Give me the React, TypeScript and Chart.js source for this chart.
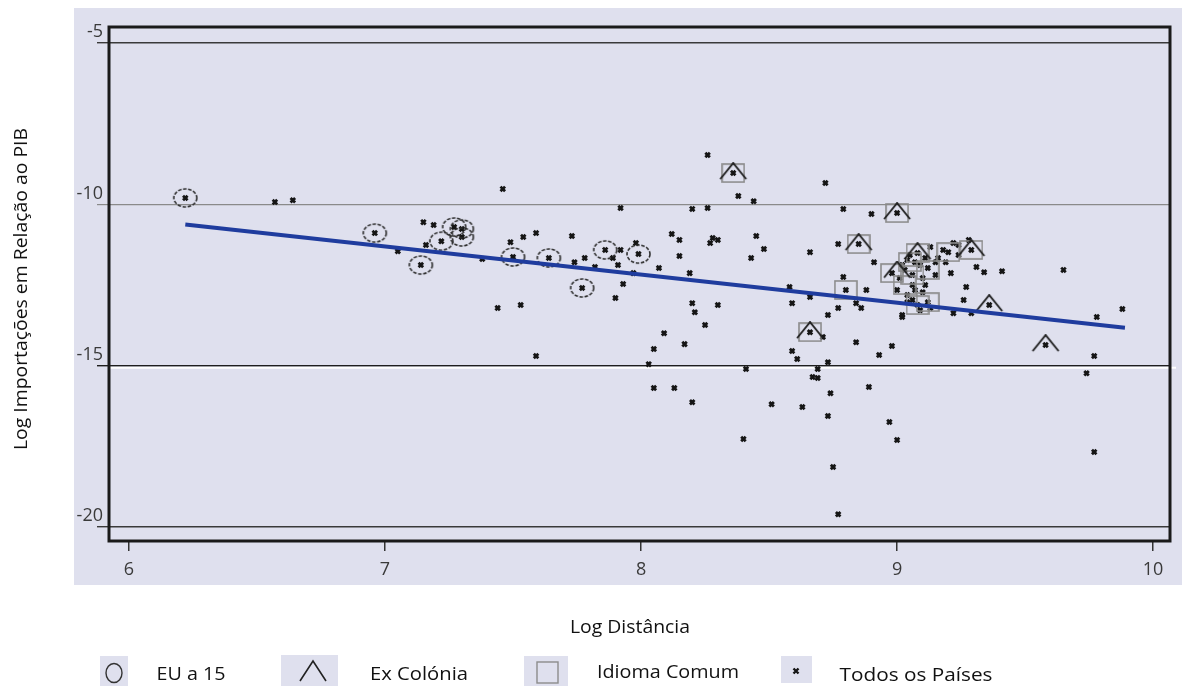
import React, { useEffect, useRef } from "react";
import { Chart, registerables } from "chart.js";

Chart.register(...registerables);

const xTicks = [6, 7, 8, 9, 10];
const yTicks = [-5, -10, -15, -20];

const allX = [
  6.22, 6.57, 6.64, 6.96, 7.05, 7.14, 7.15, 7.19, 7.16, 7.22, 7.27, 7.3, 7.3, 7.38, 7.44, 7.46, 7.49, 7.5, 7.53, 7.54,
  7.59, 7.59, 7.64, 7.73, 7.74, 7.77, 7.78, 7.82, 7.86, 7.89, 7.9, 7.91, 7.92, 7.92, 7.93, 7.97, 7.98, 7.99, 8.03, 8.05,
  8.05, 8.07, 8.09, 8.12, 8.13, 8.15, 8.15, 8.17, 8.19, 8.2, 8.2, 8.2, 8.21, 8.25, 8.26, 8.26, 8.27, 8.28, 8.3, 8.3,
  8.36, 8.38, 8.4, 8.41, 8.43, 8.44, 8.45, 8.48, 8.51, 8.58, 8.59, 8.59, 8.61, 8.63, 8.66, 8.66, 8.66, 8.67, 8.69, 8.69,
  8.71, 8.72, 8.73, 8.73, 8.73, 8.74, 8.75, 8.77, 8.77, 8.77, 8.79, 8.79, 8.8, 8.84, 8.84, 8.85, 8.86, 8.88, 8.89, 8.9,
  8.91, 8.93, 8.97, 8.98, 9.0, 9.0, 9.02,
  8.98, 9.01, 9.02, 9.04, 9.05, 9.06, 9.06, 9.04, 9.02, 9.08, 9.08, 9.09, 9.1, 9.1, 9.12, 9.12, 9.13, 9.16, 9.2, 9.21,
  9.22, 9.22, 9.26, 9.27, 9.28, 9.29, 9.29, 9.31, 9.34, 9.36, 9.41, 9.58, 9.65, 9.74, 9.77, 9.77, 9.78, 9.88,
  9.07, 9.11, 9.15, 9.18, 9.24, 9.04, 9.13,
  9.03, 9.07, 9.11, 9.06, 9.09, 9.15, 9.19, 9.24, 9.0,
];
const allY = [
  -9.8, -9.93, -9.87, -10.89, -11.45, -11.88, -10.55, -10.64, -11.26, -11.14, -10.7, -10.76, -11.01, -11.69, -13.21, -9.52, -11.17, -11.63, -13.12, -11.01,
  -10.89, -14.7, -11.66, -10.98, -11.79, -12.59, -11.66, -11.94, -11.41, -11.66, -12.9, -11.88, -11.41, -10.11, -12.47, -12.13, -11.2, -11.54, -14.95, -14.48,
  -15.69, -11.97, -13.99, -10.92, -15.69, -11.1, -11.6, -14.33, -12.13, -10.14, -13.06, -16.13, -13.34, -13.74, -8.47, -10.11, -11.2, -11.04, -11.1, -13.12,
  -9.03, -9.74, -17.27, -15.1, -11.66, -9.9, -10.98, -11.38, -16.19, -12.56, -14.54, -13.06, -14.79, -16.28, -11.48, -12.87, -13.96, -15.35, -15.1, -15.38,
  -14.11, -9.34, -13.43, -14.89, -16.56, -15.85, -18.14, -13.21, -11.23, -19.6, -10.14, -12.25, -12.65, -13.06, -14.27, -11.23, -13.21, -12.65, -15.66, -10.3,
  -11.79, -14.67, -16.74, -14.39, -17.3, -10.27, -13.49,
  -12.13, -12.28, -11.88, -11.72, -11.57, -12.5, -12.19, -12.81, -13.43, -13.12, -11.51, -11.88, -12.72, -12.28, -13.03, -11.97, -11.32, -11.66, -11.48, -12.13,
  -11.2, -13.37, -12.96, -12.56, -11.1, -11.41, -13.37, -11.94, -12.1, -13.12, -12.07, -14.36, -12.03, -15.23, -14.7, -17.67, -13.49, -13.24,
  -12.65, -12.5, -11.79, -11.41, -11.26, -13.03, -13.21,
  -12.03, -11.79, -11.66, -12.96, -13.28, -12.19, -11.79, -11.57, -12.65,
];

const euX = [6.22, 6.96, 7.14, 7.22, 7.27, 7.3, 7.3, 7.5, 7.64, 7.77, 7.86, 7.99];
const euY = [-9.8, -10.89, -11.88, -11.14, -10.7, -10.76, -11.01, -11.63, -11.66, -12.59, -11.41, -11.54];

const colX = [8.36, 9.0, 8.85, 8.66, 9.08, 9.29, 9.36, 9.58, 9.0];
const colY = [-9.03, -10.27, -11.23, -13.96, -11.51, -11.41, -13.12, -14.36, -12.08];

const langX = [8.36, 9.0, 8.85, 8.8, 8.66, 9.08, 9.2, 9.29, 8.98, 9.06, 9.08, 9.12, 9.05, 9.03, 9.12];
const langY = [-9.03, -10.27, -11.23, -12.65, -13.96, -11.51, -11.48, -11.41, -12.13, -12.19, -13.12, -13.03, -11.79, -12.5, -12.03];

const fitX = [6.22, 9.89];
const fitY = [-10.62, -13.82];

const FONT = "'Open Sans', 'DejaVu Sans', sans-serif";
const LAVENDER = "#dfe0ee";

const zip = (xs: number[], ys: number[]) => xs.map((x, i) => ({ x, y: ys[i] }));

function measure(text: string, font: string): number {
  const c = document.createElement("canvas");
  const g = c.getContext("2d")!;
  g.font = font;
  return g.measureText(text).width;
}

function FitText(props: { text: string; cx: number; cy: number; width: number; size: number; rotate?: boolean; color?: string }) {
  const { text, cx, cy, width, size, rotate, color } = props;
  const font = `${size}px ${FONT}`;
  const w = typeof document !== "undefined" ? measure(text, font) : width;
  const s = w > 0 ? width / w : 1;
  return (
    <div
      style={{
        position: "absolute",
        left: cx,
        top: cy,
        font,
        color: color || "#111",
        whiteSpace: "nowrap",
        lineHeight: 1,
        transform: `translate(-50%, -50%) ${rotate ? "rotate(-90deg) " : ""}scaleX(${s})`,
      }}
    >
      {text}
    </div>
  );
}

export default function App() {
  const ref = useRef<HTMLCanvasElement>(null);

  useEffect(() => {
    const mk = (w: number, h: number, draw: (g: CanvasRenderingContext2D) => void) => {
      const c = document.createElement("canvas");
      c.width = w;
      c.height = h;
      draw(c.getContext("2d")!);
      return c;
    };
    const euImg = mk(27, 22, (g) => {
      g.strokeStyle = "#2e2e2e";
      g.lineWidth = 1.6;
      g.setLineDash([3.5, 1.6]);
      g.beginPath();
      g.ellipse(13.5, 11, 11.5, 9, 0, 0, Math.PI * 2);
      g.stroke();
    });
    const colImg = mk(30, 22, (g) => {
      g.strokeStyle = "#1e1e1e";
      g.lineWidth = 1.9;
      g.beginPath();
      g.moveTo(2, 17);
      g.lineTo(15, 1);
      g.lineTo(28, 17);
      g.stroke();
    });
    const langImg = mk(24, 20, (g) => {
      g.strokeStyle = "#8a8a8a";
      g.lineWidth = 1.6;
      g.strokeRect(1, 1, 22, 18);
    });

    const framePlugin = {
      id: "frame",
      beforeDatasetsDraw(chart: any) {
        const { ctx, chartArea, scales } = chart;
        const y = scales.y.getPixelForValue(-15) + 2;
        ctx.save();
        ctx.strokeStyle = "#ffffff";
        ctx.lineWidth = 2;
        ctx.beginPath();
        ctx.moveTo(chartArea.left, y);
        ctx.lineTo(chartArea.right + 6, y);
        ctx.stroke();
        ctx.restore();
      },
      afterDraw(chart: any) {
        const { ctx, chartArea } = chart;
        ctx.save();
        ctx.strokeStyle = "#1a1a1a";
        ctx.lineWidth = 3;
        ctx.strokeRect(chartArea.left, chartArea.top, chartArea.right - chartArea.left, chartArea.bottom - chartArea.top);
        ctx.restore();
      },
    };

    const gridColor = (v: number) => (v === -10 ? "#8a8a8a" : v === -15 ? "#1e1e1e" : "#3a3a3a");

    const chart = new Chart(ref.current!, {
      type: "scatter",
      data: {
        datasets: [
          {
            label: "Regressão",
            data: zip(fitX, fitY),
            showLine: true,
            borderColor: "#1f3c9e",
            borderWidth: 4,
            pointRadius: 0,
            order: 0,
          },
          {
            label: "EU a 15",
            data: zip(euX, euY),
            pointStyle: euImg as any,
            pointRadius: 11,
            order: 1,
          },
          {
            label: "Ex Colónia",
            data: zip(colX, colY),
            pointStyle: colImg as any,
            pointRadius: 11,
            order: 2,
          },
          {
            label: "Idioma Comum",
            data: zip(langX, langY),
            pointStyle: langImg as any,
            pointRadius: 11,
            order: 3,
          },
          {
            label: "Todos os Países",
            data: zip(allX, allY),
            pointStyle: "crossRot",
            pointRadius: 3.2,
            borderWidth: 2.8,
            borderColor: "#151515",
            backgroundColor: "#151515",
            order: 4,
          },
        ],
      },
      options: {
        animation: false,
        responsive: false,
        devicePixelRatio: 1,
        layout: { padding: { left: 0, top: 27, right: 12, bottom: 0 } },
        plugins: { legend: { display: false }, tooltip: { enabled: false } },
        events: [],
        scales: {
          x: {
            type: "linear",
            min: 5.922,
            max: 10.066,
            border: { display: false },
            grid: { drawOnChartArea: false, drawTicks: true, tickLength: 10, color: "#333", lineWidth: 1.5 },
            ticks: { color: "#3a3a3a", font: { family: FONT, size: 18 }, padding: 8 },
            afterBuildTicks: (s: any) => {
              s.ticks = xTicks.map((v) => ({ value: v }));
            },
            afterFit: (s: any) => {
              s.height = 145;
              s.paddingLeft = 0;
              s.paddingRight = 0;
            },
          },
          y: {
            type: "linear",
            min: -20.43,
            max: -4.504,
            border: { display: false },
            grid: {
              drawTicks: true,
              tickLength: 12,
              color: (c: any) => gridColor(c.tick ? c.tick.value : 0),
              lineWidth: (c: any) => (c.tick && c.tick.value === -10 ? 1.2 : 1.4),
            },
            ticks: { color: "#3a3a3a", font: { family: FONT, size: 18 }, padding: -6, labelOffset: -11 },
            afterBuildTicks: (s: any) => {
              s.ticks = yTicks.map((v) => ({ value: v }));
            },
            afterFit: (s: any) => {
              s.width = 109;
              s.paddingTop = 0;
              s.paddingBottom = 0;
            },
          },
        },
      },
      plugins: [framePlugin],
    } as any);
    return () => chart.destroy();
  }, []);

  return (
    <div style={{ position: "absolute", left: 0, top: 0, width: 1182, height: 686, overflow: "hidden", background: "#fff" }}>
      <div style={{ position: "absolute", left: 74, top: 8, width: 1108, height: 577, background: LAVENDER }} />
      <canvas ref={ref} width={1182} height={686} style={{ position: "absolute", left: 0, top: 0, width: 1182, height: 686 }} />
      <FitText text="Log Distância" cx={630} cy={626} width={120} size={19} />
      <FitText text="Log Importações em Relação ao PIB" cx={20} cy={289} width={322} size={18} rotate />

      <div style={{ position: "absolute", left: 100, top: 656, width: 28, height: 30, background: LAVENDER }}>
        <svg width={28} height={30}>
          <ellipse cx={14} cy={17} rx={8} ry={9.5} fill="none" stroke="#333" strokeWidth={1.4} />
        </svg>
      </div>
      <FitText text="EU a 15" cx={191} cy={673} width={69} size={18} />

      <div style={{ position: "absolute", left: 281, top: 655, width: 57, height: 31, background: LAVENDER }}>
        <svg width={57} height={31}>
          <polyline points="19,26 32,6 45,26" fill="none" stroke="#222" strokeWidth={1.6} />
        </svg>
      </div>
      <FitText text="Ex Colónia" cx={419} cy={673} width={98} size={18} />

      <div style={{ position: "absolute", left: 524, top: 656, width: 44, height: 30, background: LAVENDER }}>
        <svg width={44} height={30}>
          <rect x={13} y={6} width={21} height={21} fill="none" stroke="#8c8c8c" strokeWidth={1.4} />
        </svg>
      </div>
      <FitText text="Idioma Comum" cx={668} cy={671} width={142} size={18} />

      <div style={{ position: "absolute", left: 781, top: 656, width: 31, height: 27, background: LAVENDER }}>
        <svg width={31} height={27}>
          <path d="M12.5,12.5 L17.5,17.5 M17.5,12.5 L12.5,17.5" stroke="#151515" strokeWidth={2.4} />
        </svg>
      </div>
      <FitText text="Todos os Países" cx={916} cy={674} width={153} size={18} />
    </div>
  );
}
